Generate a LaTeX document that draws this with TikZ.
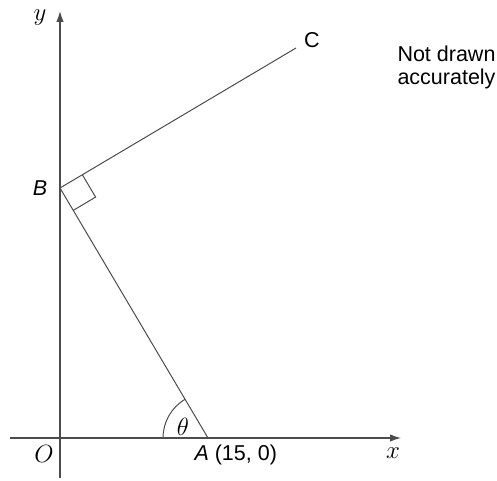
\documentclass[tikz,border=0pt]{standalone}
\usepackage{fontspec}
\setsansfont{Liberation Sans}
\usetikzlibrary{arrows.meta,angles,calc}

\begin{document}
\begin{tikzpicture}[x=1pt,y=1pt,line width=1pt,draw=black!70,
    lbl/.style={font=\sffamily\fontsize{21.5}{23}\selectfont,inner sep=0pt},
    mth/.style={font=\fontsize{25}{25}\selectfont,inner sep=0pt},
    axis/.style={line width=1.3pt,-{Latex[length=11pt,width=7.5pt]}}]
  \useasboundingbox (0,0) rectangle (497,480);
  \coordinate (O) at (60,42);
  \coordinate (A) at (208,42);
  \coordinate (B) at (60,292);
  \coordinate (C) at (296,432);
  \coordinate (xl) at (10,42);
  \coordinate (xr) at (401,42);
  \coordinate (yb) at (60,2);
  \coordinate (yt) at (60,469);
  \draw[axis] (xl) -- (xr);
  \draw[axis] (yb) -- (yt);
  \draw (A) -- (B) -- (C);
  \coordinate (P) at ($(B)!26pt!(C)$);
  \coordinate (Q) at ($(B)!26pt!(A)$);
  \draw (P) -- ($(P)+(Q)-(B)$) -- (Q);
  \draw pic[draw,angle radius=45pt] {angle=B--A--O};
  \node[mth] (ylab) at (40,462) {$y$};
  \node[mth] (xlab) at (393,27) {$x$};
  \node[mth] (Olab) at (44,26) {$O$};
  \node[mth] (th) at (183,53) {$\theta$};
  \node[lbl] (Blab) at (40,292) {\itshape B};
  \node[lbl] (Clab) at (312,440) {C};
  \node[lbl,anchor=west] (Alab) at (194,25) {\itshape A\upshape\ (15, 0)};
  \node[lbl,anchor=north west,align=left] (note) at (397,435) {Not drawn\\accurately};
\end{tikzpicture}
\end{document}
